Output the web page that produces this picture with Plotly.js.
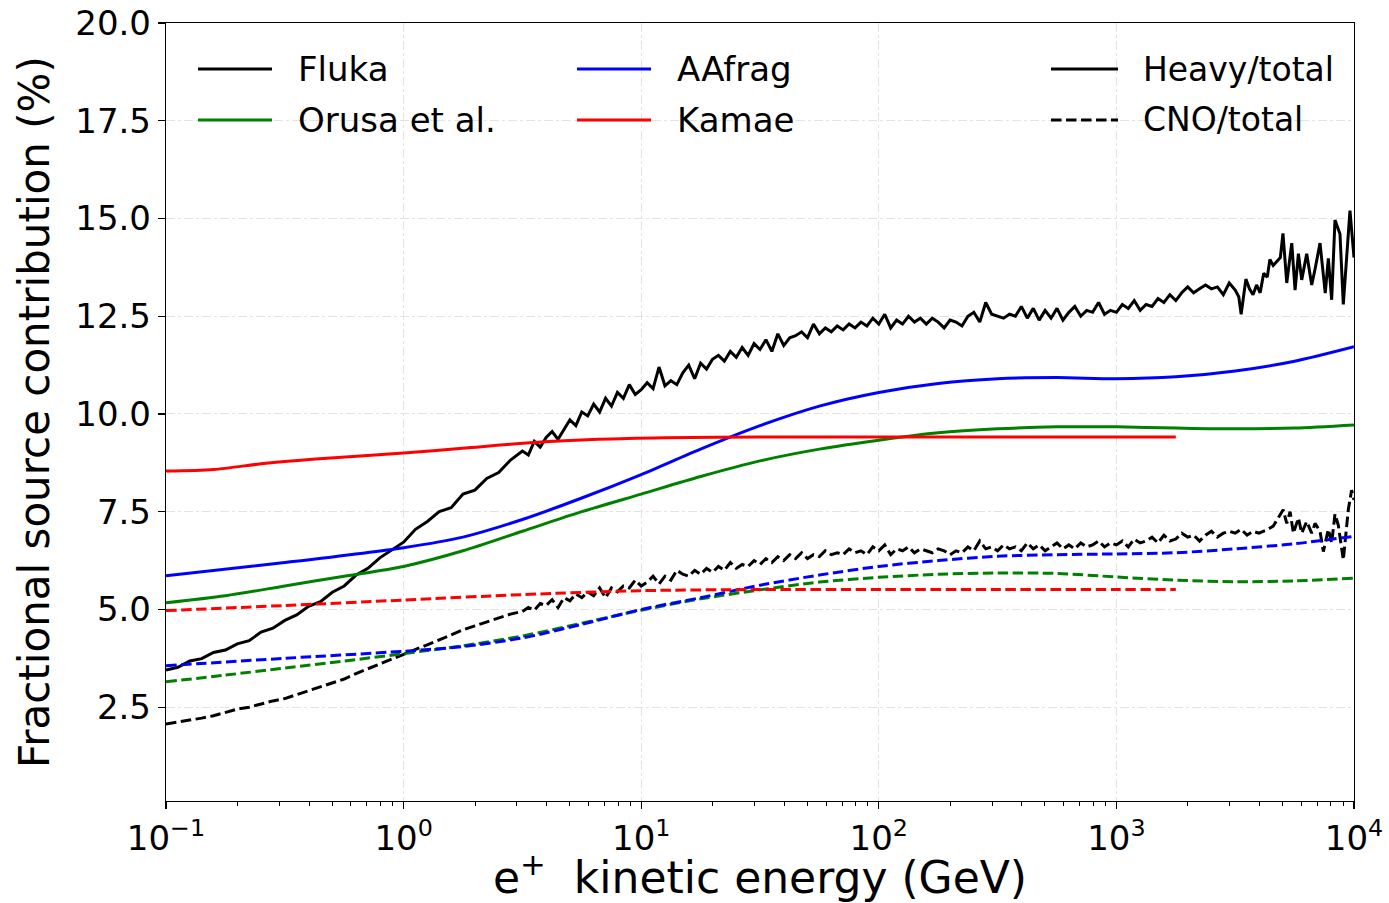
<!DOCTYPE html>
<html>
<head>
<meta charset="utf-8">
<script src="https://cdn.plot.ly/plotly-3.0.1.min.js"></script>
<style>html,body{margin:0;padding:0;background:#fff;}#chart{width:1389px;height:903px;}</style>
</head>
<body>
<div id="chart"></div>
<script>
// ---- data: [log10(E/GeV), fraction %] ----
const flukaHeavy = [
[-1.00,3.45],[-0.95,3.52],[-0.90,3.68],[-0.85,3.74],[-0.80,3.90],[-0.75,3.96],[-0.70,4.12],[-0.65,4.20],[-0.60,4.42],[-0.55,4.52],
[-0.50,4.72],[-0.45,4.86],[-0.40,5.08],[-0.35,5.20],[-0.30,5.44],[-0.25,5.60],[-0.20,5.88],[-0.15,6.05],[-0.10,6.32],[-0.05,6.52],
[0.00,6.72],[0.05,7.05],[0.10,7.25],[0.15,7.50],[0.20,7.60],[0.25,7.95],[0.30,8.05],[0.35,8.35],[0.40,8.50],[0.45,8.82],
[0.500,9.05],[0.525,8.95],[0.550,9.30],[0.575,9.15],[0.600,9.40],[0.625,9.55],[0.650,9.35],[0.675,9.60],[0.700,9.85],[0.725,9.70],
[0.750,10.05],[0.775,9.95],[0.800,10.25],[0.825,10.05],[0.850,10.40],[0.875,10.20],[0.900,10.55],[0.925,10.40],[0.950,10.75],[0.975,10.50],
[1.000,10.62],[1.025,10.80],[1.050,10.65],[1.075,11.20],[1.100,10.72],[1.125,10.85],[1.150,10.75],[1.175,11.05],[1.200,11.25],[1.225,10.90],
[1.250,11.30],[1.275,11.15],[1.300,11.40],[1.325,11.50],[1.350,11.35],[1.375,11.60],[1.400,11.45],[1.425,11.70],[1.450,11.50],[1.475,11.80],
[1.500,11.65],[1.525,11.90],[1.550,11.60],[1.575,12.05],[1.600,11.75],[1.625,11.95],[1.650,12.00],[1.675,12.10],[1.700,11.95],[1.725,12.30],
[1.750,12.05],[1.775,12.20],[1.800,12.10],[1.825,12.25],[1.850,12.15],[1.875,12.30],[1.900,12.20],[1.925,12.35],[1.950,12.25],[1.975,12.45],
[2.000,12.30],[2.025,12.55],[2.050,12.20],[2.075,12.40],[2.100,12.30],[2.125,12.50],[2.150,12.35],[2.175,12.45],[2.200,12.30],[2.225,12.45],
[2.250,12.35],[2.275,12.20],[2.300,12.40],[2.325,12.35],[2.350,12.25],[2.375,12.50],[2.400,12.60],[2.425,12.35],[2.450,12.85],[2.475,12.55],
[2.500,12.50],[2.525,12.45],[2.550,12.55],[2.575,12.50],[2.600,12.75],[2.625,12.45],[2.650,12.70],[2.675,12.40],[2.700,12.65],[2.725,12.45],
[2.750,12.70],[2.775,12.40],[2.800,12.60],[2.825,12.75],[2.850,12.50],[2.875,12.65],[2.900,12.60],[2.925,12.85],[2.950,12.55],[2.975,12.65],
[3.000,12.60],[3.025,12.80],[3.050,12.70],[3.075,12.90],[3.100,12.65],[3.125,12.80],[3.150,12.75],[3.175,12.95],[3.200,12.85],[3.225,13.05],
[3.250,12.90],[3.275,13.10],[3.300,13.25],[3.325,13.10],[3.350,13.20],[3.375,13.30],[3.400,13.20],[3.425,13.25],[3.450,13.05],[3.475,13.35],
[3.500,13.17],[3.515,13.00],[3.525,12.55],[3.545,13.45],[3.560,13.20],[3.575,13.05],[3.590,13.30],[3.605,13.10],[3.620,13.60],[3.635,13.50],
[3.646,13.95],[3.660,13.80],[3.675,13.90],[3.690,14.00],[3.701,14.62],[3.717,13.35],[3.738,14.37],[3.752,13.17],[3.766,14.10],[3.780,13.43],
[3.801,14.10],[3.822,13.30],[3.836,13.70],[3.857,14.37],[3.879,13.09],[3.892,13.98],[3.906,12.92],[3.920,14.96],[3.941,14.60],[3.955,12.80],
[3.983,15.20],[4.000,14.00]
];
const flukaCNO = [
[-1.00,2.07],[-0.95,2.12],[-0.90,2.16],[-0.85,2.22],[-0.80,2.28],[-0.75,2.36],[-0.70,2.45],[-0.65,2.50],[-0.60,2.58],[-0.55,2.66],
[-0.50,2.72],[-0.45,2.82],[-0.40,2.93],[-0.35,3.02],[-0.30,3.12],[-0.25,3.22],[-0.20,3.36],[-0.15,3.48],[-0.10,3.60],[-0.05,3.74],
[0.00,3.86],[0.05,3.98],[0.10,4.08],[0.15,4.22],[0.20,4.35],[0.25,4.48],[0.30,4.58],[0.35,4.68],[0.40,4.80],[0.45,4.88],
[0.500,4.95],[0.525,5.05],[0.550,4.98],[0.575,5.15],[0.600,5.10],[0.625,5.25],[0.650,5.05],[0.675,5.30],[0.700,5.22],[0.725,5.40],
[0.750,5.30],[0.775,5.45],[0.800,5.35],[0.825,5.55],[0.850,5.30],[0.875,5.55],[0.900,5.45],[0.925,5.60],[0.950,5.55],[0.975,5.75],
[1.000,5.60],[1.025,5.70],[1.050,5.85],[1.075,5.65],[1.100,5.85],[1.125,5.75],[1.150,6.00],[1.175,5.90],[1.200,5.85],[1.225,6.00],
[1.250,5.90],[1.275,6.05],[1.300,5.95],[1.325,6.10],[1.350,6.00],[1.375,6.20],[1.400,6.05],[1.425,6.15],[1.450,6.10],[1.475,6.25],
[1.500,6.15],[1.525,6.30],[1.550,6.20],[1.575,6.35],[1.600,6.25],[1.625,6.40],[1.650,6.30],[1.675,6.45],[1.700,6.30],[1.725,6.40],
[1.750,6.35],[1.775,6.50],[1.800,6.40],[1.825,6.45],[1.850,6.40],[1.875,6.55],[1.900,6.45],[1.925,6.50],[1.950,6.40],[1.975,6.60],
[2.000,6.50],[2.025,6.65],[2.050,6.40],[2.075,6.55],[2.100,6.50],[2.125,6.60],[2.150,6.45],[2.175,6.55],[2.200,6.50],[2.225,6.45],
[2.250,6.55],[2.275,6.50],[2.300,6.40],[2.325,6.50],[2.350,6.45],[2.375,6.60],[2.400,6.50],[2.425,6.75],[2.450,6.55],[2.475,6.60],
[2.500,6.50],[2.525,6.65],[2.550,6.55],[2.575,6.60],[2.600,6.50],[2.625,6.70],[2.650,6.55],[2.675,6.65],[2.700,6.50],[2.725,6.60],
[2.750,6.70],[2.775,6.55],[2.800,6.65],[2.825,6.55],[2.850,6.70],[2.875,6.60],[2.900,6.65],[2.925,6.75],[2.950,6.60],[2.975,6.70],
[3.000,6.65],[3.025,6.75],[3.050,6.60],[3.075,6.80],[3.100,6.70],[3.125,6.75],[3.150,6.85],[3.175,6.70],[3.200,6.90],[3.225,6.75],
[3.250,6.80],[3.275,6.95],[3.300,6.85],[3.325,6.90],[3.350,6.75],[3.375,6.90],[3.400,7.00],[3.425,6.85],[3.450,6.95],[3.475,7.00],
[3.500,6.95],[3.525,7.05],[3.550,6.90],[3.575,7.00],[3.600,6.95],[3.632,7.03],[3.660,7.13],[3.702,7.55],[3.717,7.20],[3.731,7.50],
[3.745,6.95],[3.766,7.34],[3.780,6.95],[3.801,7.25],[3.822,6.95],[3.836,7.20],[3.857,7.00],[3.871,6.48],[3.892,7.05],[3.906,6.70],
[3.920,7.44],[3.934,7.15],[3.955,6.27],[3.976,7.55],[3.990,8.05],[4.000,7.80]
];
const aafragHeavy = [[-1,5.86],[-0.5,6.2],[0,6.58],[0.25,6.85],[0.5,7.3],[0.75,7.85],[1.0,8.45],[1.25,9.1],[1.5,9.7],[1.75,10.2],[2.0,10.55],[2.25,10.78],[2.5,10.9],[2.75,10.93],[3.0,10.9],[3.25,10.95],[3.5,11.1],[3.75,11.35],[4.0,11.72]];
const aafragCNO = [[-1,3.56],[-0.5,3.75],[0,3.93],[0.25,4.05],[0.5,4.27],[0.75,4.62],[1.0,5.0],[1.25,5.3],[1.5,5.62],[1.75,5.88],[2.0,6.1],[2.25,6.25],[2.5,6.36],[2.75,6.4],[3.0,6.42],[3.25,6.45],[3.5,6.55],[3.75,6.68],[4.0,6.87]];
const orusaHeavy = [[-1,5.17],[-0.75,5.35],[-0.5,5.6],[-0.25,5.85],[0,6.1],[0.25,6.5],[0.5,7.0],[0.75,7.5],[1.0,7.95],[1.25,8.4],[1.5,8.8],[1.75,9.1],[2.0,9.33],[2.25,9.52],[2.5,9.62],[2.75,9.67],[3.0,9.67],[3.25,9.64],[3.5,9.62],[3.75,9.64],[4.0,9.72]];
const orusaCNO = [[-1,3.15],[-0.75,3.32],[-0.5,3.5],[-0.25,3.68],[0,3.87],[0.25,4.07],[0.5,4.32],[0.75,4.65],[1.0,4.98],[1.25,5.27],[1.5,5.5],[1.75,5.7],[2.0,5.82],[2.25,5.9],[2.5,5.93],[2.75,5.92],[3.0,5.83],[3.25,5.75],[3.5,5.71],[3.75,5.73],[4.0,5.8]];
const kamaeHeavy = [[-1,8.54],[-0.8,8.58],[-0.58,8.74],[-0.37,8.85],[0,9.0],[0.26,9.13],[0.55,9.27],[0.82,9.35],[1.1,9.39],[1.5,9.41],[2.0,9.41],[2.5,9.41],[3.0,9.41],[3.25,9.41]];
const kamaeCNO = [[-1,4.97],[-0.5,5.1],[0,5.24],[0.5,5.38],[1.0,5.48],[1.5,5.51],[2.0,5.51],[2.5,5.51],[3.0,5.51],[3.25,5.51]];

const modelNames = ["Fluka", "Orusa et al.", "AAfrag", "Kamae"];
const modelColors = ["#000000", "#008000", "#0000ff", "#ff0000"];
const ratioNames = ["Heavy/total", "CNO/total"];
const xTickVals = [0.1, 1, 10, 100, 1000, 10000];
const xTickText = ["10<sup>−1</sup>", "10<sup>0</sup>", "10<sup>1</sup>", "10<sup>2</sup>", "10<sup>3</sup>", "10<sup>4</sup>"];
const yTickVals = [2.5, 5.0, 7.5, 10.0, 12.5, 15.0, 17.5, 20.0];

const FONT = "DejaVu Sans, sans-serif";
const LW = 3;
const DASH = "10.5px,4.5px";

function tr(data, color, dashed, shape) {
  return {
    x: data.map(p => Math.pow(10, p[0])),
    y: data.map(p => p[1]),
    type: "scatter", mode: "lines", showlegend: false, hoverinfo: "skip",
    line: {color: color, width: LW, dash: dashed ? DASH : "solid", shape: shape || "linear", smoothing: 0.8}
  };
}

const traces = [
  tr(flukaHeavy, modelColors[0], false),
  tr(orusaHeavy, modelColors[1], false, "spline"),
  tr(aafragHeavy, modelColors[2], false, "spline"),
  tr(kamaeHeavy, modelColors[3], false, "spline"),
  tr(flukaCNO, modelColors[0], true),
  tr(orusaCNO, modelColors[1], true, "spline"),
  tr(aafragCNO, modelColors[2], true, "spline"),
  tr(kamaeCNO, modelColors[3], true, "spline")
];

// legend drawn by hand (paper coordinates from pixel positions)
const M = {l: 166, r: 35, t: 23, b: 102};
const PW = 1389 - M.l - M.r, PH = 903 - M.t - M.b;
const px2x = px => (px - M.l) / PW;
const py2y = py => (903 - M.b - py) / PH;

const legendCols = [
  {lineX0: 198, lineX1: 272, textX: 296, items: [0, 1]},
  {lineX0: 577, lineX1: 651, textX: 675, items: [2, 3]}
];
const rowY = [69, 120];
const shapes = [], annotations = [];
legendCols.forEach(c => {
  c.items.forEach((idx, r) => {
    shapes.push({type: "line", xref: "paper", yref: "paper", x0: px2x(c.lineX0), x1: px2x(c.lineX1), y0: py2y(rowY[r]), y1: py2y(rowY[r]), line: {color: modelColors[idx], width: 3}});
    annotations.push({xref: "paper", yref: "paper", x: px2x(c.textX), y: py2y(rowY[r]), xanchor: "left", yanchor: "middle", showarrow: false, text: modelNames[idx], font: {family: FONT, size: 34, color: "#000"}});
  });
});
ratioNames.forEach((name, r) => {
  shapes.push({type: "line", xref: "paper", yref: "paper", x0: px2x(1051), x1: px2x(1118), y0: py2y(rowY[r]), y1: py2y(rowY[r]), line: {color: "#000", width: 3, dash: r === 1 ? DASH : "solid"}});
  annotations.push({xref: "paper", yref: "paper", x: px2x(1141), y: py2y(rowY[r]), xanchor: "left", yanchor: "middle", showarrow: false, text: name, font: {family: FONT, size: 33, color: "#000"}});
});

const layout = {
  width: 1389, height: 903,
  margin: M,
  paper_bgcolor: "#fff", plot_bgcolor: "#fff",
  font: {family: FONT, color: "#000"},
  showlegend: false,
  xaxis: {
    type: "log", range: [-1, 4],
    tickvals: xTickVals, ticktext: xTickText,
    ticks: "outside", ticklen: 7, tickwidth: 1.2, tickcolor: "#000",
    tickfont: {family: FONT, size: 34, color: "#000"},
    showline: true, linecolor: "#000", linewidth: 1.2, mirror: true,
    showgrid: true, gridcolor: "#e3e3e3", gridwidth: 1, griddash: "dashdot",
    zeroline: false,
    minor: {ticks: "outside", ticklen: 4, tickwidth: 1, tickcolor: "#000", dtick: "D1", showgrid: false},
    title: {text: "e<sup>+</sup>  kinetic energy (GeV)", font: {family: FONT, size: 44, color: "#000"}, standoff: 11}
  },
  yaxis: {
    range: [0.1, 20],
    tickvals: yTickVals, tickformat: ".1f",
    ticks: "outside", ticklen: 7, tickwidth: 1.2, tickcolor: "#000",
    tickfont: {family: FONT, size: 34, color: "#000"},
    showline: true, linecolor: "#000", linewidth: 1.2, mirror: true,
    showgrid: true, gridcolor: "#e3e3e3", gridwidth: 1, griddash: "dashdot",
    zeroline: false,
    title: {text: "Fractional source contribution (%)", font: {family: FONT, size: 42, color: "#000"}, standoff: 12}
  },
  shapes: shapes,
  annotations: annotations
};

Plotly.newPlot("chart", traces, layout, {staticPlot: true, displayModeBar: false});
</script>
</body>
</html>
